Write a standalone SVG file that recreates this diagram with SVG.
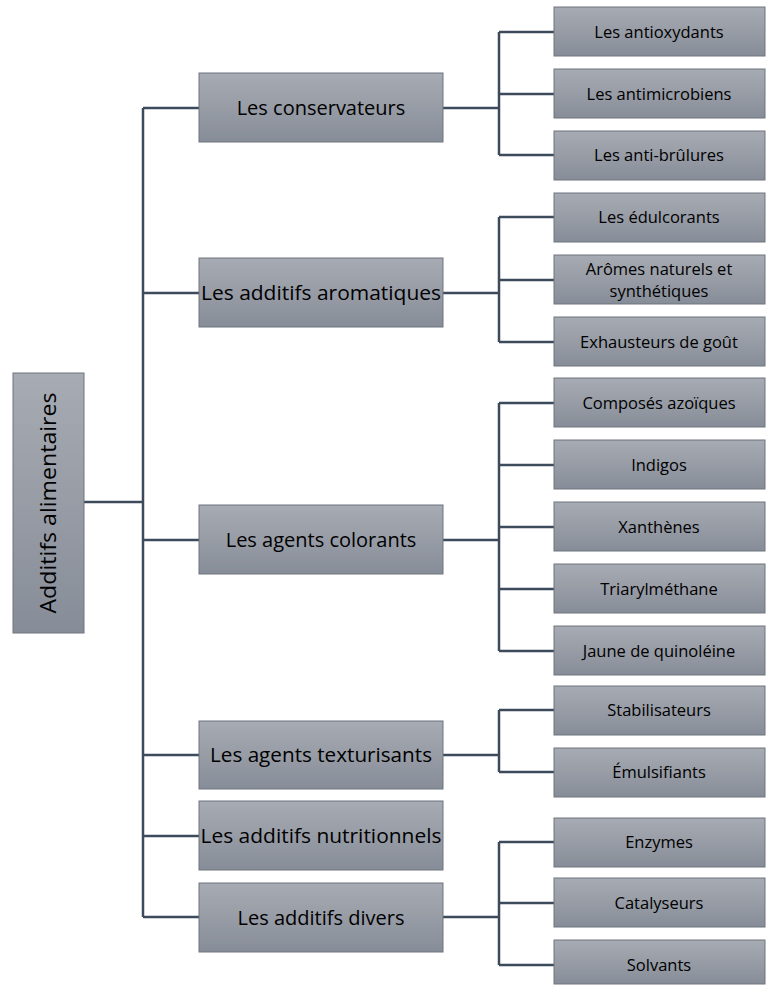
<svg xmlns="http://www.w3.org/2000/svg" width="767" height="985" viewBox="0 0 767 985">
<defs>
<linearGradient id="g" x1="0" y1="0" x2="0" y2="1">
<stop offset="0" stop-color="#a7abb3"/>
<stop offset="1" stop-color="#878d98"/>
</linearGradient>
</defs>
<style>
.box{fill:url(#g);stroke:#6f747d;stroke-width:1}
.t{font-family:"Open Sans","Liberation Sans",Arial,sans-serif;fill:#000;text-anchor:middle}
.m{font-size:20px}
.l{font-size:16.5px}
.c{fill:none;stroke:#3d4a5c;stroke-width:2.5}
</style>
<g id="connectors" class="c">
<path d="M84,502H143M143,108V917M143,108H199M143,293H199M143,540H199M143,755H199M143,836H199M143,917H199"/>
<path d="M443,108H499M499,32V155M499,32H554M499,94H554M499,155H554"/>
<path d="M443,293H499M499,217V342M499,217H554M499,280H554M499,342H554"/>
<path d="M443,540H499M499,403V651M499,403H554M499,465H554M499,527H554M499,589H554M499,651H554"/>
<path d="M443,755H499M499,710V772M499,710H554M499,772H554"/>
<path d="M443,917H499M499,842V965M499,842H554M499,903H554M499,965H554"/>
</g>
<g id="root"><rect class="box" x="13" y="373" width="71" height="260"/><text class="t" font-size="21" transform="translate(56,503) rotate(-90)" textLength="221" lengthAdjust="spacingAndGlyphs">Additifs alimentaires</text></g>
<g id="n1"><rect class="box" x="199" y="73" width="244" height="69"/><text class="t m" x="321" y="115">Les conservateurs</text></g>
<g id="n2"><rect class="box" x="199" y="258" width="244" height="69"/><text class="t m" x="321" y="300" textLength="240" lengthAdjust="spacingAndGlyphs">Les additifs aromatiques</text></g>
<g id="n3"><rect class="box" x="199" y="505" width="244" height="69"/><text class="t m" x="321" y="547">Les agents colorants</text></g>
<g id="n4"><rect class="box" x="199" y="721" width="244" height="68"/><text class="t m" x="321" y="762" textLength="222" lengthAdjust="spacingAndGlyphs">Les agents texturisants</text></g>
<g id="n5"><rect class="box" x="199" y="801" width="244" height="69"/><text class="t m" x="321" y="843" textLength="241" lengthAdjust="spacingAndGlyphs">Les additifs nutritionnels</text></g>
<g id="n6"><rect class="box" x="199" y="883" width="244" height="69"/><text class="t m" x="321" y="925">Les additifs divers</text></g>
<g id="l1"><rect class="box" x="554" y="7" width="211" height="49"/><text class="t l" x="659" y="38">Les antioxydants</text></g>
<g id="l2"><rect class="box" x="554" y="69" width="211" height="49"/><text class="t l" x="659" y="100">Les antimicrobiens</text></g>
<g id="l3"><rect class="box" x="554" y="131" width="211" height="49"/><text class="t l" x="659" y="161">Les anti-brûlures</text></g>
<g id="l4"><rect class="box" x="554" y="193" width="211" height="49"/><text class="t l" x="659" y="223">Les édulcorants</text></g>
<g id="l5"><rect class="box" x="554" y="255" width="211" height="49"/><text class="t l" x="659" y="275">Arômes naturels et</text><text class="t l" x="659" y="297">synthétiques</text></g>
<g id="l6"><rect class="box" x="554" y="317" width="211" height="49"/><text class="t l" x="659" y="348">Exhausteurs de goût</text></g>
<g id="l7"><rect class="box" x="554" y="378" width="211" height="49"/><text class="t l" x="659" y="409">Composés azoïques</text></g>
<g id="l8"><rect class="box" x="554" y="440" width="211" height="49"/><text class="t l" x="659" y="471">Indigos</text></g>
<g id="l9"><rect class="box" x="554" y="502" width="211" height="49"/><text class="t l" x="659" y="533">Xanthènes</text></g>
<g id="l10"><rect class="box" x="554" y="564" width="211" height="49"/><text class="t l" x="659" y="595">Triarylméthane</text></g>
<g id="l11"><rect class="box" x="554" y="626" width="211" height="49"/><text class="t l" x="659" y="657">Jaune de quinoléine</text></g>
<g id="l12"><rect class="box" x="554" y="686" width="211" height="49"/><text class="t l" x="659" y="716">Stabilisateurs</text></g>
<g id="l13"><rect class="box" x="554" y="748" width="211" height="49"/><text class="t l" x="659" y="778">Émulsifiants</text></g>
<g id="l14"><rect class="box" x="554" y="818" width="211" height="49"/><text class="t l" x="659" y="848">Enzymes</text></g>
<g id="l15"><rect class="box" x="554" y="878" width="211" height="49"/><text class="t l" x="659" y="909">Catalyseurs</text></g>
<g id="l16"><rect class="box" x="554" y="940" width="211" height="44"/><text class="t l" x="659" y="971">Solvants</text></g>
</svg>
